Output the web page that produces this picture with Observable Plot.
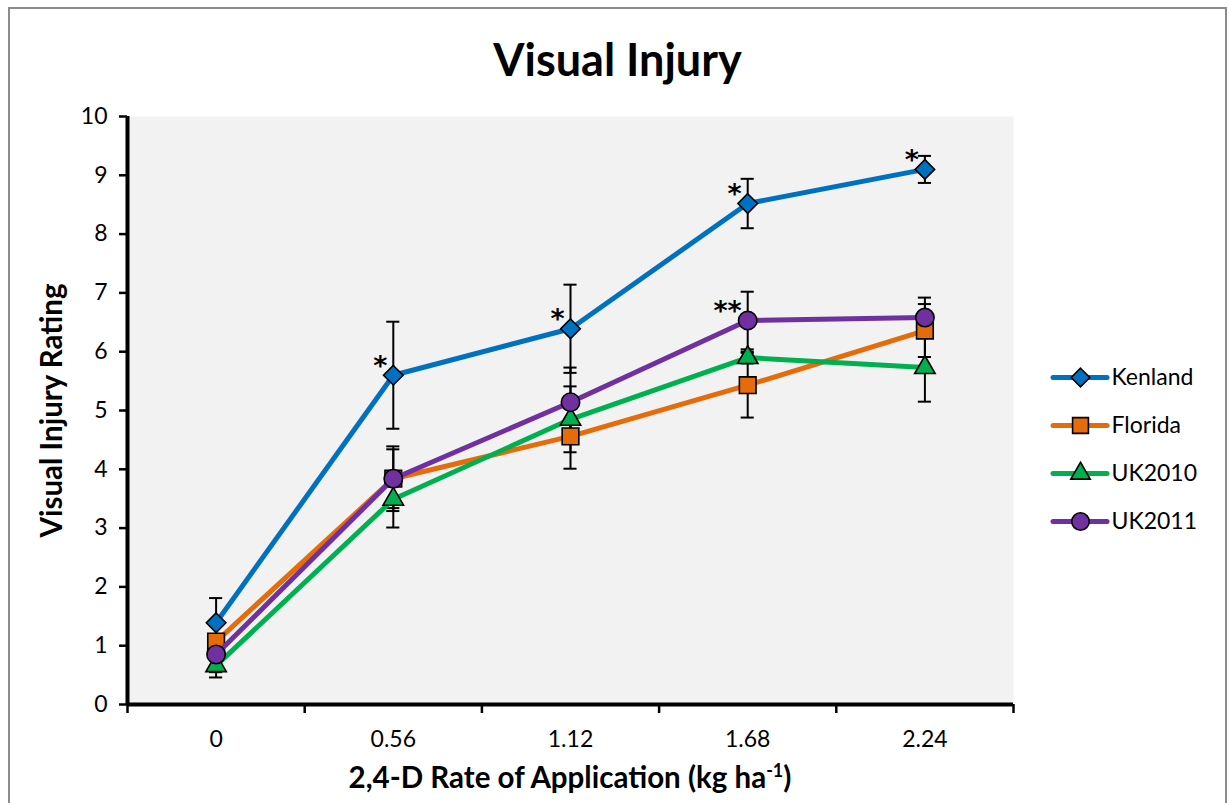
<!DOCTYPE html>
<html><head><meta charset="utf-8">
<script src="https://cdn.jsdelivr.net/npm/d3@7"></script>
<script src="https://cdn.jsdelivr.net/npm/@observablehq/plot@0.6"></script>
<style>
body{margin:0;background:#fff;font-family:Lato,"Open Sans",sans-serif;}
#wrap{position:relative;width:1230px;height:803px;overflow:hidden;background:#fff;}
#border{position:absolute;left:8px;top:7px;width:1219px;height:830px;border:2px solid #8c8c8c;box-sizing:border-box;}
#title{position:absolute;left:8px;width:1219px;top:33px;text-align:center;font-weight:bold;font-size:45px;line-height:52px;color:#000;}
#xlabel{position:absolute;left:127px;width:886px;top:760px;text-align:center;font-weight:bold;font-size:29.5px;line-height:34px;color:#000;}
#xlabel sup{font-size:18px;vertical-align:11px;line-height:0;}
#chart{position:absolute;left:0;top:0;}
#legend{position:absolute;left:1045px;top:350px;}
</style></head>
<body>
<div id="wrap">
  <div id="border"></div>
  <div id="chart"></div>
  <div id="title">Visual Injury</div>
  <div id="xlabel">2,4-D Rate of Application (kg ha<sup>-1</sup>)</div>
  <div id="legend"></div>
</div>
<script>
// ---- data ----
const rates = ["0", "0.56", "1.12", "1.68", "2.24"];
const seriesNames = ["Kenland", "Florida", "UK2010", "UK2011"];
const kenland    = [1.39, 5.60, 6.39, 8.52, 9.10];
const kenlandErr = [0.42, 0.91, 0.75, 0.42, 0.23];
const florida    = [1.07, 3.84, 4.56, 5.43, 6.36];
const floridaErr = [0.30, 0.55, 0.55, 0.55, 0.45];
const uk2010     = [0.66, 3.49, 4.85, 5.90, 5.73];
const uk2010Err  = [0.20, 0.48, 0.56, 0.10, 0.58];
const uk2011     = [0.85, 3.84, 5.14, 6.53, 6.58];
const uk2011Err  = [0.30, 0.50, 0.59, 0.49, 0.34];
const starSeries = ["Kenland", "Kenland", "Kenland", "Kenland", "UK2011"];
const starIndex  = [1, 2, 3, 4, 3];
const starLabel  = ["*", "*", "*", "*", "**"];
const yTicks = [0, 1, 2, 3, 4, 5, 6, 7, 8, 9, 10];

const colors  = {Kenland: "#0070C0", Florida: "#E46C0A", UK2010: "#00B050", UK2011: "#7030A0"};
const symbols = {Kenland: "diamond2", Florida: "square", UK2010: "triangle", UK2011: "circle"};
const radii   = {Kenland: 8.8, Florida: 9.4, UK2010: 7.6, UK2011: 9.2};

const valuesBy = {Kenland: kenland, Florida: florida, UK2010: uk2010, UK2011: uk2011};
const errBy = {Kenland: kenlandErr, Florida: floridaErr, UK2010: uk2010Err, UK2011: uk2011Err};

const rows = seriesNames.flatMap(s => rates.map((r, i) => ({series: s, i, rate: r, value: valuesBy[s][i], err: errBy[s][i]})));
const stars = starSeries.map((s, k) => ({series: s, i: starIndex[k], label: starLabel[k], value: valuesBy[s][starIndex[k]]}));
const capHalf = 0.037;
const font = "Lato, 'Open Sans', sans-serif";

const marks = [
  Plot.frame({fill: "#f2f2f2", stroke: "none"}),
  // error bars
  Plot.ruleX(rows, {x: "i", y1: d => d.value - d.err, y2: d => d.value + d.err, stroke: "#000", strokeWidth: 2}),
  Plot.ruleY(rows, {y: d => d.value + d.err, x1: d => d.i - capHalf, x2: d => d.i + capHalf, stroke: "#000", strokeWidth: 2}),
  Plot.ruleY(rows, {y: d => d.value - d.err, x1: d => d.i - capHalf, x2: d => d.i + capHalf, stroke: "#000", strokeWidth: 2}),
];
for (const s of seriesNames) {
  const d = rows.filter(r => r.series === s);
  marks.push(Plot.line(d, {x: "i", y: "value", stroke: colors[s], strokeWidth: 5, strokeLinejoin: "round", strokeLinecap: "round"}));
  marks.push(Plot.dot(d, {x: "i", y: "value", symbol: symbols[s], r: radii[s], fill: colors[s], stroke: "#000", strokeWidth: 1.6}));
}
marks.push(
  Plot.text(stars, {x: "i", y: "value", text: "label", textAnchor: "end", lineAnchor: "middle", dx: -6, dy: -9, fontSize: 27, fontWeight: "bold", fill: "#000", fontFamily: "'DejaVu Sans', sans-serif"}),
  // axes
  Plot.axisY({ticks: yTicks, tickSize: 8, tickPadding: 12, fontSize: 23, strokeWidth: 2.5, label: null, fill: "#000", fontFamily: font}),
  Plot.axisX({ticks: [-0.5, 0.5, 1.5, 2.5, 3.5, 4.5], tickSize: 9, strokeWidth: 2.5, tickFormat: () => "", label: null}),
  Plot.axisX({ticks: [0, 1, 2, 3, 4], tickSize: 0, tickPadding: 26, tickFormat: i => rates[i], fontSize: 23, label: null, fill: "#000", fontFamily: font}),
  Plot.ruleX([-0.5], {stroke: "#000", strokeWidth: 4}),
  Plot.ruleY([0], {stroke: "#000", strokeWidth: 4}),
  Plot.text(["Visual Injury Rating"], {frameAnchor: "left", textAnchor: "middle", dx: -75, rotate: -90, fontSize: 29.5, fontWeight: "bold", fill: "#000", fontFamily: font})
);

const chart = Plot.plot({
  width: 1230,
  height: 803,
  marginLeft: 127,
  marginRight: 217,
  marginTop: 116,
  marginBottom: 99,
  style: {background: "transparent", fontFamily: font, color: "#000"},
  x: {type: "linear", domain: [-0.5, 4.5]},
  y: {type: "linear", domain: [0, 10]},
  marks
});
document.getElementById("chart").append(chart);

// ---- legend ----
const legendRows = seriesNames.map(s => ({series: s}));
const legend = Plot.plot({
  width: 185,
  height: 200,
  margin: 0,
  style: {background: "transparent", fontFamily: font},
  x: {type: "linear", domain: [0, 1], range: [8, 62], axis: null},
  y: {type: "point", domain: seriesNames, range: [26, 172], padding: 0, axis: null},
  marks: [
    ...seriesNames.map(s => Plot.ruleY([{series: s}], {y: "series", x1: 0, x2: 1, stroke: colors[s], strokeWidth: 5, strokeLinecap: "round"})),
    ...seriesNames.map(s => Plot.dot([{series: s}], {y: "series", x: 0.5, symbol: symbols[s], r: radii[s] * 0.95, fill: colors[s], stroke: "#000", strokeWidth: 1.6})),
    Plot.text(legendRows, {y: "series", x: 1, text: "series", textAnchor: "start", dx: 4, fontSize: 23, fill: "#000", fontFamily: font})
  ]
});
document.getElementById("legend").append(legend);
</script>
</body></html>
